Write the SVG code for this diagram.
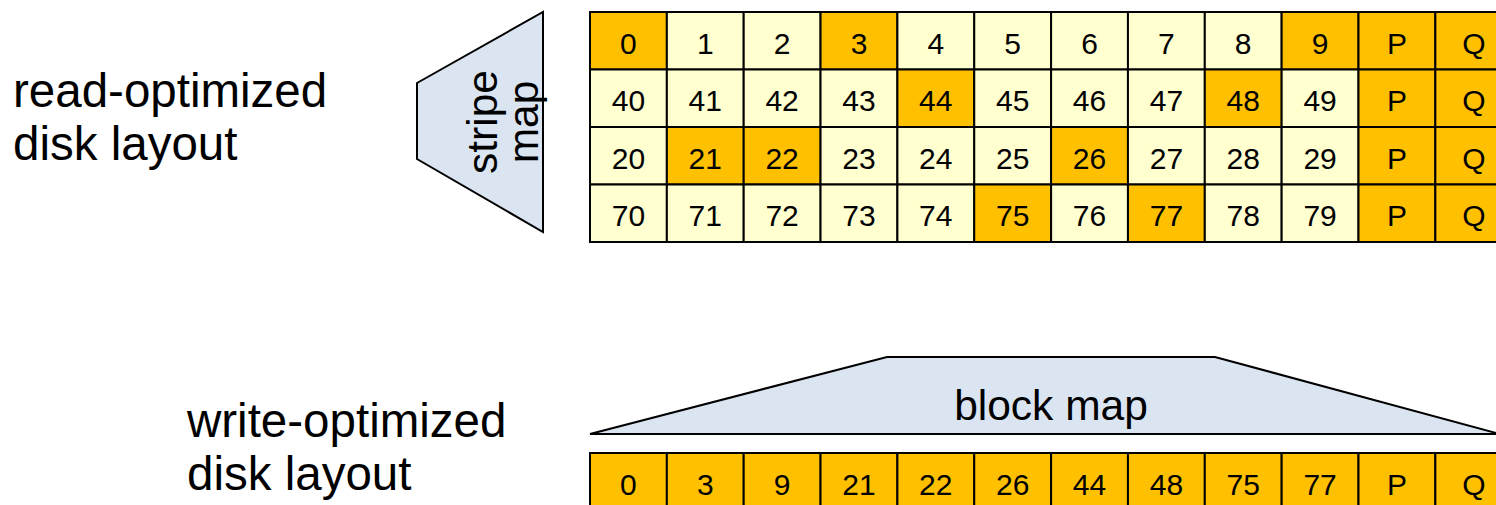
<svg xmlns="http://www.w3.org/2000/svg" width="1496" height="505" viewBox="0 0 1496 505">
  <style>
    .lbl { font-family: "Liberation Sans", Arial, sans-serif; font-size: 47.5px; fill: #000; }
    .map { font-family: "Liberation Sans", Arial, sans-serif; font-size: 42.5px; fill: #000; }
    .num { font-family: "Liberation Sans", Arial, sans-serif; font-size: 30px; fill: #000; text-anchor: middle; }
    .shape { fill: #DBE5F1; stroke: #000; stroke-width: 2; stroke-linejoin: miter; }
    .on { fill: #FFC000; stroke: #000; stroke-width: 2; }
    .off { fill: #FFFFD0; stroke: #000; stroke-width: 2; }
  </style>

  <!-- captions -->
  <g id="read-label">
    <text class="lbl" x="13" y="107">read-optimized</text>
    <text class="lbl" x="13" y="160">disk layout</text>
  </g>
  <g id="write-label">
    <text class="lbl" x="187" y="437">write-optimized</text>
    <text class="lbl" x="187" y="490">disk layout</text>
  </g>

  <!-- stripe map: trapezoid pointing left -->
  <g id="stripe-map">
    <polygon class="shape" points="417,83 543,12 543,232 417,159"/>
    <text class="map" text-anchor="middle" transform="translate(497,122) rotate(-90)">stripe</text>
    <text class="map" text-anchor="middle" transform="translate(538,122) rotate(-90)">map</text>
  </g>

  <!-- read-optimized layout: 4 stripes x 12 columns (col width 76.85, row height 57.5) -->
  <g id="read-grid">
    <!-- row 0 -->
    <rect class="on"  x="590"    y="12" width="76.85" height="57.5"/>
    <rect class="off" x="666.85" y="12" width="76.85" height="57.5"/>
    <rect class="off" x="743.7"  y="12" width="76.85" height="57.5"/>
    <rect class="on"  x="820.55" y="12" width="76.85" height="57.5"/>
    <rect class="off" x="897.4"  y="12" width="76.85" height="57.5"/>
    <rect class="off" x="974.25" y="12" width="76.85" height="57.5"/>
    <rect class="off" x="1051.1" y="12" width="76.85" height="57.5"/>
    <rect class="off" x="1127.95" y="12" width="76.85" height="57.5"/>
    <rect class="off" x="1204.8" y="12" width="76.85" height="57.5"/>
    <rect class="on"  x="1281.65" y="12" width="76.85" height="57.5"/>
    <rect class="on"  x="1358.5" y="12" width="76.85" height="57.5"/>
    <rect class="on"  x="1435.35" y="12" width="76.85" height="57.5"/>
    <!-- row 1 -->
    <rect class="off" x="590"    y="69.5" width="76.85" height="57.5"/>
    <rect class="off" x="666.85" y="69.5" width="76.85" height="57.5"/>
    <rect class="off" x="743.7"  y="69.5" width="76.85" height="57.5"/>
    <rect class="off" x="820.55" y="69.5" width="76.85" height="57.5"/>
    <rect class="on"  x="897.4"  y="69.5" width="76.85" height="57.5"/>
    <rect class="off" x="974.25" y="69.5" width="76.85" height="57.5"/>
    <rect class="off" x="1051.1" y="69.5" width="76.85" height="57.5"/>
    <rect class="off" x="1127.95" y="69.5" width="76.85" height="57.5"/>
    <rect class="on"  x="1204.8" y="69.5" width="76.85" height="57.5"/>
    <rect class="off" x="1281.65" y="69.5" width="76.85" height="57.5"/>
    <rect class="on"  x="1358.5" y="69.5" width="76.85" height="57.5"/>
    <rect class="on"  x="1435.35" y="69.5" width="76.85" height="57.5"/>
    <!-- row 2 -->
    <rect class="off" x="590"    y="127" width="76.85" height="57.5"/>
    <rect class="on"  x="666.85" y="127" width="76.85" height="57.5"/>
    <rect class="on"  x="743.7"  y="127" width="76.85" height="57.5"/>
    <rect class="off" x="820.55" y="127" width="76.85" height="57.5"/>
    <rect class="off" x="897.4"  y="127" width="76.85" height="57.5"/>
    <rect class="off" x="974.25" y="127" width="76.85" height="57.5"/>
    <rect class="on"  x="1051.1" y="127" width="76.85" height="57.5"/>
    <rect class="off" x="1127.95" y="127" width="76.85" height="57.5"/>
    <rect class="off" x="1204.8" y="127" width="76.85" height="57.5"/>
    <rect class="off" x="1281.65" y="127" width="76.85" height="57.5"/>
    <rect class="on"  x="1358.5" y="127" width="76.85" height="57.5"/>
    <rect class="on"  x="1435.35" y="127" width="76.85" height="57.5"/>
    <!-- row 3 -->
    <rect class="off" x="590"    y="184.5" width="76.85" height="57.5"/>
    <rect class="off" x="666.85" y="184.5" width="76.85" height="57.5"/>
    <rect class="off" x="743.7"  y="184.5" width="76.85" height="57.5"/>
    <rect class="off" x="820.55" y="184.5" width="76.85" height="57.5"/>
    <rect class="off" x="897.4"  y="184.5" width="76.85" height="57.5"/>
    <rect class="on"  x="974.25" y="184.5" width="76.85" height="57.5"/>
    <rect class="off" x="1051.1" y="184.5" width="76.85" height="57.5"/>
    <rect class="on"  x="1127.95" y="184.5" width="76.85" height="57.5"/>
    <rect class="off" x="1204.8" y="184.5" width="76.85" height="57.5"/>
    <rect class="off" x="1281.65" y="184.5" width="76.85" height="57.5"/>
    <rect class="on"  x="1358.5" y="184.5" width="76.85" height="57.5"/>
    <rect class="on"  x="1435.35" y="184.5" width="76.85" height="57.5"/>

    <text class="num" y="53.5">
      <tspan x="628.4">0</tspan><tspan x="705.3">1</tspan><tspan x="782.1">2</tspan><tspan x="859">3</tspan><tspan x="935.8">4</tspan><tspan x="1012.7">5</tspan><tspan x="1089.5">6</tspan><tspan x="1166.4">7</tspan><tspan x="1243.2">8</tspan><tspan x="1320.1">9</tspan><tspan x="1396.9">P</tspan><tspan x="1473.8">Q</tspan>
    </text>
    <text class="num" y="111">
      <tspan x="628.4">40</tspan><tspan x="705.3">41</tspan><tspan x="782.1">42</tspan><tspan x="859">43</tspan><tspan x="935.8">44</tspan><tspan x="1012.7">45</tspan><tspan x="1089.5">46</tspan><tspan x="1166.4">47</tspan><tspan x="1243.2">48</tspan><tspan x="1320.1">49</tspan><tspan x="1396.9">P</tspan><tspan x="1473.8">Q</tspan>
    </text>
    <text class="num" y="168.5">
      <tspan x="628.4">20</tspan><tspan x="705.3">21</tspan><tspan x="782.1">22</tspan><tspan x="859">23</tspan><tspan x="935.8">24</tspan><tspan x="1012.7">25</tspan><tspan x="1089.5">26</tspan><tspan x="1166.4">27</tspan><tspan x="1243.2">28</tspan><tspan x="1320.1">29</tspan><tspan x="1396.9">P</tspan><tspan x="1473.8">Q</tspan>
    </text>
    <text class="num" y="226">
      <tspan x="628.4">70</tspan><tspan x="705.3">71</tspan><tspan x="782.1">72</tspan><tspan x="859">73</tspan><tspan x="935.8">74</tspan><tspan x="1012.7">75</tspan><tspan x="1089.5">76</tspan><tspan x="1166.4">77</tspan><tspan x="1243.2">78</tspan><tspan x="1320.1">79</tspan><tspan x="1396.9">P</tspan><tspan x="1473.8">Q</tspan>
    </text>
  </g>

  <!-- block map: wide trapezoid above the log row -->
  <g id="block-map">
    <polygon class="shape" points="590,434 887,357 1215,357 1500,434"/>
    <text class="map" x="1051" y="420" text-anchor="middle">block map</text>
  </g>

  <!-- write-optimized layout: one full stripe -->
  <g id="write-row">
    <rect class="on" x="590"    y="453" width="76.85" height="57.5"/>
    <rect class="on" x="666.85" y="453" width="76.85" height="57.5"/>
    <rect class="on" x="743.7"  y="453" width="76.85" height="57.5"/>
    <rect class="on" x="820.55" y="453" width="76.85" height="57.5"/>
    <rect class="on" x="897.4"  y="453" width="76.85" height="57.5"/>
    <rect class="on" x="974.25" y="453" width="76.85" height="57.5"/>
    <rect class="on" x="1051.1" y="453" width="76.85" height="57.5"/>
    <rect class="on" x="1127.95" y="453" width="76.85" height="57.5"/>
    <rect class="on" x="1204.8" y="453" width="76.85" height="57.5"/>
    <rect class="on" x="1281.65" y="453" width="76.85" height="57.5"/>
    <rect class="on" x="1358.5" y="453" width="76.85" height="57.5"/>
    <rect class="on" x="1435.35" y="453" width="76.85" height="57.5"/>
    <text class="num" y="494.5">
      <tspan x="628.4">0</tspan><tspan x="705.3">3</tspan><tspan x="782.1">9</tspan><tspan x="859">21</tspan><tspan x="935.8">22</tspan><tspan x="1012.7">26</tspan><tspan x="1089.5">44</tspan><tspan x="1166.4">48</tspan><tspan x="1243.2">75</tspan><tspan x="1320.1">77</tspan><tspan x="1396.9">P</tspan><tspan x="1473.8">Q</tspan>
    </text>
  </g>

  <!-- no connectors in this figure -->
  <g id="connectors"/>
</svg>
